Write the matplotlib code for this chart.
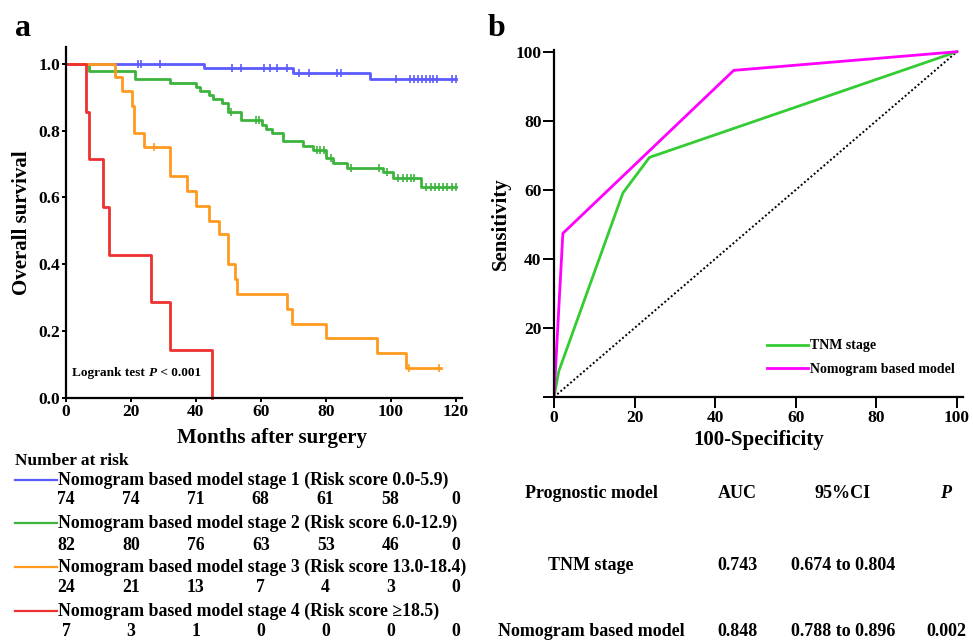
import numpy as np
import matplotlib
matplotlib.use("Agg")
import matplotlib.pyplot as plt
import matplotlib.transforms as mtransforms

plt.rcParams["font.family"] = ["Liberation Serif", "DejaVu Serif"]
plt.rcParams["font.weight"] = "bold"

## Kaplan-Meier step data (time in months, survival)
km_colors = ["#5b5bff", "#3cb43c", "#ff9a1f", "#ee3030"]

stage1_t = [0, 42.4, 69.9, 93.8, 120]
stage1_s = [1.0, 0.987, 0.972, 0.955, 0.955]
stage1_cens_t = [22.2, 23.1, 29, 51, 53.8, 61, 63, 65, 68, 71.9, 74.9, 83.6, 84.6,
                 101.8, 106, 107.2, 108.4, 109.6, 110.8, 112, 113.2, 114.4, 119, 120]

stage2_t = [0, 7.2, 21.2, 32.1, 40, 41.3, 44.1, 45.4, 48, 49.9, 53.8, 60.3, 61.5, 63.6,
            66.7, 73.1, 76.1, 80, 82.4, 86.7, 97.7, 100.7, 109.4, 120]
stage2_s = [1.0, 0.977, 0.953, 0.942, 0.930, 0.917, 0.905, 0.893, 0.881, 0.857, 0.831,
            0.817, 0.805, 0.792, 0.770, 0.755, 0.742, 0.717, 0.703, 0.688, 0.675, 0.657,
            0.63, 0.63]
stage2_cens_t = [50.8, 58.6, 59.6, 77.2, 78.4, 79.5, 81.5, 87.7, 96.3, 98.8, 102.4, 103.8,
                 105, 106.2, 107.2, 111, 112.3, 113.6, 114.9, 116.2, 117.5, 118.8, 120]

stage3_t = [0, 15.2, 17.1, 20.2, 21, 24.1, 32.1, 37.2, 40, 44.1, 47, 49.9, 52, 52.8,
            68, 69.7, 80, 95.7, 104.9, 115.4]
stage3_s = [1.0, 0.959, 0.917, 0.875, 0.792, 0.75, 0.665, 0.62, 0.575, 0.53, 0.49, 0.40,
            0.355, 0.31, 0.266, 0.222, 0.179, 0.134, 0.09, 0.09]
stage3_cens_t = [27.2, 105.6, 114.9]

stage4_t = [0, 6.2, 7.2, 11.3, 13.3, 26.2, 32.1, 45.1]
stage4_s = [1.0, 0.857, 0.714, 0.571, 0.429, 0.286, 0.143, 0.0]
stage4_cens_t = []

stage_labels = [
    "Nomogram based model stage 1 (Risk score 0.0-5.9)",
    "Nomogram based model stage 2 (Risk score 6.0-12.9)",
    "Nomogram based model stage 3 (Risk score 13.0-18.4)",
    "Nomogram based model stage 4 (Risk score \u226518.5)",
]
risk_times = [0, 20, 40, 60, 80, 100, 120]
risk_stage1 = [74, 74, 71, 68, 61, 58, 0]
risk_stage2 = [82, 80, 76, 63, 53, 46, 0]
risk_stage3 = [24, 21, 13, 7, 4, 3, 0]
risk_stage4 = [7, 3, 1, 0, 0, 0, 0]

## ROC data
tnm_fpr = [0, 1.2, 17.1, 23.7, 100]
tnm_tpr = [0, 7.5, 59.1, 69.4, 100]
nomo_fpr = [0, 2.2, 44.6, 100]
nomo_tpr = [0, 47.4, 94.6, 100]

table_header = ["Prognostic model", "AUC", "95%CI", "P"]
table_rows = [
    ["TNM stage", "0.743", "0.674 to 0.804", ""],
    ["Nomogram based model", "0.848", "0.788 to 0.896", "0.002"],
]

W, H = 973, 640
fig = plt.figure(figsize=(W / 100, H / 100), dpi=100)


def px_axes(left, top, right, bottom):
    return fig.add_axes([left / W, 1 - bottom / H, (right - left) / W, (bottom - top) / H])


def style_axes(ax, ticklen):
    for s in ["top", "right"]:
        ax.spines[s].set_visible(False)
    for s in ["left", "bottom"]:
        ax.spines[s].set_linewidth(1.6)
    ax.tick_params(width=1.4, length=ticklen, labelsize=12.5, pad=1)
    for lab in ax.get_xticklabels() + ax.get_yticklabels():
        lab.set_fontweight("bold")


## Panel a
ax1 = px_axes(66, 47, 462, 398)
km_data = [
    (stage1_t, stage1_s, stage1_cens_t),
    (stage2_t, stage2_s, stage2_cens_t),
    (stage3_t, stage3_s, stage3_cens_t),
    (stage4_t, stage4_s, stage4_cens_t),
]
for (t, s, ct), c in zip(km_data, km_colors):
    ax1.step(t, s, where="post", color=c, lw=2.0, clip_on=False)
    if ct:
        cs = [s[np.searchsorted(t, x, side="right") - 1] for x in ct]
        ax1.plot(ct, cs, ls="none", marker="|", ms=6, mew=1.2, color=c, clip_on=False)

ax1.set_xlim(0, 122)
ax1.set_ylim(0, 1.05)
ax1.set_xticks(risk_times)
ax1.set_yticks([0, 0.2, 0.4, 0.6, 0.8, 1.0])
ax1.set_yticklabels(["0.0", "0.2", "0.4", "0.6", "0.8", "1.0"])
style_axes(ax1, 3)
ax1.set_xlabel("Months after surgery", fontsize=15, fontweight="bold", labelpad=3)
ax1.xaxis.set_label_coords(0.52, -0.085)
ax1.set_ylabel("Overall survival", fontsize=15, fontweight="bold", labelpad=5)
t1 = ax1.text(2, 0.075, "Logrank test ", fontsize=9.5, fontweight="bold", va="center")
t2 = ax1.annotate("P", xy=(1, 0), xycoords=t1, fontsize=9.5, fontweight="bold",
                  style="italic", va="bottom")
ax1.annotate(" < 0.001", xy=(1, 0), xycoords=t2, fontsize=9.5, fontweight="bold",
             va="bottom")

fig.text(15 / W, 1 - 28 / H, "a", fontsize=23, fontweight="bold", va="center")
fig.text(488 / W, 1 - 28 / H, "b", fontsize=23, fontweight="bold", va="center")

## Number at risk
fig.text(15 / W, 1 - 461 / H, "Number at risk", fontsize=12.5, fontweight="bold", va="center")
trans = mtransforms.blended_transform_factory(ax1.transData, fig.transFigure)
risk_rows = [risk_stage1, risk_stage2, risk_stage3, risk_stage4]
label_y = [480, 523, 567, 611]
num_y = [500, 545, 588, 632]
for lab, ly, ny, c, row in zip(stage_labels, label_y, num_y, km_colors, risk_rows):
    fig.add_artist(plt.Line2D([15 / W, 57 / W], [1 - ly / H, 1 - ly / H], color=c, lw=1.6))
    fig.text(58 / W, 1 - ly / H, lab, fontsize=12.8, fontweight="bold", va="center")
    for x, n in zip(risk_times, row):
        fig.text(x, 1 - ny / H, str(n), transform=trans, fontsize=12.8, fontweight="bold",
                 ha="center", va="center")

## Panel b
ax2 = px_axes(554, 50, 963, 397)
ax2.plot([0, 100], [0, 100], color="black", ls=(0, (1, 1.2)), lw=1.4)
ax2.plot(tnm_fpr, tnm_tpr, color="#33cc33", lw=2.0, label="TNM stage")
ax2.plot(nomo_fpr, nomo_tpr, color="#ff00ff", lw=2.0, label="Nomogram based model")
ax2.set_xlim(0, 101.5)
ax2.set_ylim(0, 100.5)
ax2.set_xticks([0, 20, 40, 60, 80, 100])
ax2.set_yticks([0, 20, 40, 60, 80, 100])
ax2.set_yticklabels(["", "20", "40", "60", "80", "100"])
style_axes(ax2, 8)
ax2.set_xlabel("100-Specificity", fontsize=15, fontweight="bold", labelpad=3)
ax2.set_ylabel("Sensitivity", fontsize=15, fontweight="bold", labelpad=3)
leg = ax2.legend(loc="lower right", bbox_to_anchor=(1.01, 0.025), frameon=False,
                 prop={"size": 10, "weight": "bold"}, handlelength=2.9, handletextpad=0.15,
                 labelspacing=0.75)

## AUC table
col_x = [591, 737, 843, 946]
fig_y = [494, 565, 632]
for x, h in zip(col_x, table_header):
    style = "italic" if h == "P" else "normal"
    fig.text(x / W, 1 - fig_y[0] / H, h, fontsize=13, fontweight="bold", style=style,
             ha="center", va="center")
for row, y in zip(table_rows, fig_y[1:]):
    for x, v in zip(col_x, row):
        fig.text(x / W, 1 - y / H, v, fontsize=13, fontweight="bold", ha="center", va="center")

fig.savefig("out.png", dpi=100)
